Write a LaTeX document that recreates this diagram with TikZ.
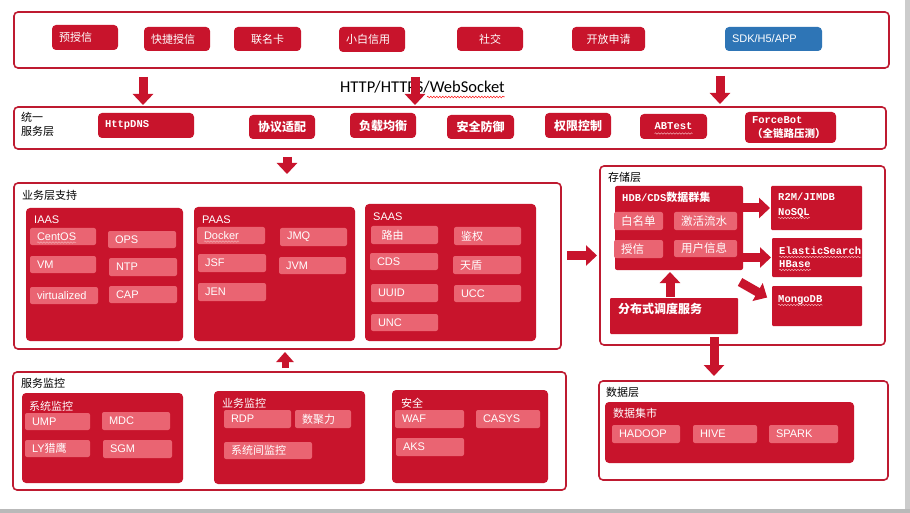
\documentclass[tikz,border=0pt]{standalone}
\usepackage{fontspec}
\setmainfont{Liberation Sans}
\newfontfamily\cjk{Noto Sans CJK SC}
\newfontfamily\monob{Liberation Mono}
\newfontfamily\cali{Carlito}
\usetikzlibrary{arrows.meta,calc,decorations.pathmorphing}
\definecolor{dred}{HTML}{C8142C}
\definecolor{bred}{HTML}{BE1A30}
\definecolor{pinkr}{HTML}{EA6472}
\definecolor{blueb}{HTML}{2E75B6}
\newcommand\mb{\fontsize{10.5}{12}\selectfont\monob\bfseries}
\newcommand\bx[7][]{\pgfmathsetmacro\bw{#5-#3}\pgfmathsetmacro\bh{#6-#4}%
  \node[inner sep=0pt, outer sep=0pt, minimum width=\bw pt, minimum height=\bh pt, #1] (#2) at ({(#3+#5)/2},{(#4+#6)/2}) {#7};}
\newcommand\lx[7][]{\pgfmathsetmacro\bw{#5-#3}\pgfmathsetmacro\bh{#6-#4}\pgfmathsetmacro\tw{#5-#3-14}%
  \node[inner xsep=7pt, inner ysep=0pt, outer sep=0pt, minimum width=\bw pt, minimum height=\bh pt, text width=\tw pt, align=left, #1] (#2) at ({(#3+#5)/2},{(#4+#6)/2}) {#7};}
\tikzset{
  outer/.style={draw=bred, line width=1.6pt, rounded corners=4pt, fill=white},
  btn/.style={fill=dred, rounded corners=4pt, text=white, font=\fontsize{11}{13}\selectfont},
  sbtn/.style={fill=dred, rounded corners=4pt, text=white, font=\fontsize{12}{14}\selectfont\bfseries},
  panel/.style={fill=dred, rounded corners=4pt},
  item/.style={fill=pinkr, rounded corners=2pt, text=white, font=\fontsize{11}{13}\selectfont},
  sitem/.style={item, font=\fontsize{11.5}{13}\selectfont},
  lbl/.style={anchor=base west, inner sep=0pt, font=\fontsize{11}{13}\selectfont},
  wlbl/.style={lbl, text=white},
  wm/.style={anchor=base west, inner sep=0pt, text=white, font=\mb},
  squig/.style={draw=pinkr!55!white, line width=0.5pt, decorate, decoration={snake, amplitude=0.7pt, segment length=3pt}},
  barrow/.style={draw=dred, line width=9pt, -{Triangle[width=20pt,length=11pt]}},
  barrows/.style={draw=dred, line width=7pt, -{Triangle[width=17pt,length=10pt]}},
}
\begin{document}
\begin{tikzpicture}[x=1pt,y=-1pt]
\useasboundingbox (0,0) rectangle (910,513);
\fill[white] (0,0) rectangle (910,513);
\fill[gray!40] (905,0) rectangle (910,513);
\fill[gray!55] (0,509) rectangle (910,513);

% ---- top channel box
\bx[outer]{top}{14}{12}{889}{68}{}
\lx[btn]{b1}{52}{25}{118}{50}{\cjk 预授信}
\lx[btn]{b2}{144}{27}{210}{51}{\cjk 快捷授信}
\bx[btn]{b3}{234}{27}{301}{51}{\cjk 联名卡}
\lx[btn]{b4}{339}{27}{405}{52}{\cjk 小白信用}
\bx[btn]{b5}{457}{27}{523}{51}{\cjk 社交}
\bx[btn]{b6}{572}{27}{645}{51}{\cjk 开放申请}
\lx[btn,fill=blueb]{b7}{725}{27}{822}{51}{SDK/H5/APP}

\node[anchor=base west, inner sep=0pt, font=\fontsize{16.5}{18}\selectfont\cali] (http) at (340,93) {HTTP/HTTPS/WebSocket};
\draw[red, line width=0.5pt, decorate, decoration={snake, amplitude=0.8pt, segment length=3pt}] ($(http.base east)+(-78,4)$) -- ($(http.base east)+(0,4)$);

% ---- unified service layer
\bx[outer]{svc}{14}{107}{886}{149}{}
\node[anchor=north west, inner sep=0pt, align=left, font=\fontsize{11}{14}\selectfont\cjk] (svclbl) at (21,112) {统一\\服务层};
\lx[sbtn]{s1}{98}{113}{194}{138}{\mb HttpDNS}
\bx[sbtn]{s2}{249}{115}{315}{139}{\cjk 协议适配}
\bx[sbtn]{s3}{350}{113}{416}{138}{\cjk 负载均衡}
\bx[sbtn]{s4}{447}{115}{514}{139}{\cjk 安全防御}
\bx[sbtn]{s5}{545}{113}{611}{138}{\cjk 权限控制}
\bx[sbtn]{s6}{640}{114}{707}{139}{\mb ABTest}
\lx[sbtn]{s7}{745}{112}{836}{143}{\mb ForceBot\\{\fontsize{10.5}{12}\selectfont\cjk （全链路压测）}}
\draw[squig] ($(s6.center)+(-19,7)$) -- ($(s6.center)+(19,7)$);

% ---- business support
\bx[outer]{biz}{14}{183}{561}{349}{}
\node[lbl] (bizlbl) at (22,200) {\cjk 业务层支持};
\bx[panel]{iaas}{26}{208}{183}{341}{}
\node[wlbl] (iaaslbl) at (34,224) {IAAS};
\lx[item]{i1}{30}{228}{96}{245}{CentOS}
\lx[item]{i2}{108}{231}{176}{248}{OPS}
\lx[item]{i3}{30}{256}{96}{273}{VM}
\lx[item]{i4}{109}{258}{177}{276}{NTP}
\lx[item]{i5}{30}{287}{98}{304}{virtualized}
\lx[item]{i6}{109}{286}{177}{303}{CAP}
\draw[squig] ($(i1.west)+(7,6)$) -- ($(i1.west)+(46,6)$);
\bx[panel]{paas}{194}{207}{355}{341}{}
\node[wlbl] (paaslbl) at (202,223) {PAAS};
\lx[item]{p1}{197}{227}{265}{244}{Docker}
\lx[item]{p2}{280}{228}{347}{246}{JMQ}
\lx[item]{p3}{198}{254}{266}{272}{JSF}
\lx[item]{p4}{279}{257}{346}{274}{JVM}
\lx[item]{p5}{198}{283}{266}{301}{JEN}
\draw[squig] ($(p1.west)+(7,6)$) -- ($(p1.west)+(42,6)$);
\bx[panel]{saas}{365}{204}{536}{341}{}
\node[wlbl] (saaslbl) at (373,221) {SAAS};
\lx[item]{a1}{371}{226}{438}{244}{\cjk ~路由}
\lx[item]{a2}{454}{227}{521}{245}{\cjk 鉴权}
\lx[item]{a3}{370}{253}{438}{270}{CDS}
\lx[item]{a4}{453}{256}{521}{274}{\cjk 天盾}
\lx[item]{a5}{371}{284}{438}{302}{UUID}
\lx[item]{a6}{454}{285}{521}{302}{UCC}
\lx[item]{a7}{371}{314}{438}{331}{UNC}

% ---- storage layer
\bx[outer]{store}{600}{166}{885}{345}{}
\node[lbl] (storelbl) at (608,182) {\cjk 存储层};
\bx[panel,rounded corners=2pt]{hdb}{615}{186}{743}{270}{}
\node[wlbl] (hdblbl) at (622,202) {{\mb HDB/CDS}{\fontsize{11}{13}\selectfont\cjk\bfseries 数据群集}};
\lx[sitem]{h1}{614}{212}{663}{230}{\cjk 白名单}
\lx[sitem]{h2}{674}{212}{737}{230}{\cjk 激活流水}
\lx[sitem]{h3}{614}{240}{663}{258}{\cjk 授信}
\lx[sitem]{h4}{674}{240}{737}{257}{\cjk 用户信息}
\bx[panel,rounded corners=1pt]{sched}{610}{298}{738}{334}{}
\node[wlbl, font=\fontsize{12}{14}\selectfont\cjk\bfseries] (schedlbl) at (618,313) {分布式调度服务};
\bx[panel,rounded corners=1pt]{r2m}{771}{186}{862}{230}{}
\node[wm] (r2mt1) at (778,201) {R2M/JIMDB};
\node[wm] (r2mt2) at (778,215) {NoSQL};
\bx[panel,rounded corners=1pt]{es}{772}{238}{862}{277}{}
\node[wm] (est1) at (779,254) {ElasticSearch};
\node[wm] (est2) at (779,267) {HBase};
\bx[panel,rounded corners=1pt]{mongo}{772}{286}{862}{326}{}
\node[wm] (mongot) at (778,302) {MongoDB};
\draw[squig] ($(r2mt2.base west)+(0,3)$) -- ($(r2mt2.base east)+(0,3)$);
\draw[squig] ($(est1.base west)+(0,3)$) -- ($(est1.base east)+(0,3)$);
\draw[squig] ($(est2.base west)+(0,3)$) -- ($(est2.base east)+(0,3)$);
\draw[squig] ($(mongot.base west)+(0,3)$) -- ($(mongot.base east)+(0,3)$);

% ---- data layer
\bx[outer]{data}{599}{381}{888}{480}{}
\node[lbl] (datalbl) at (606,396) {\cjk 数据层};
\bx[panel]{mart}{605}{402}{854}{463}{}
\node[wlbl] (martlbl) at (613,417) {\cjk 数据集市};
\lx[item]{d1}{612}{425}{680}{443}{HADOOP}
\lx[item]{d2}{693}{425}{757}{443}{HIVE}
\lx[item]{d3}{769}{425}{838}{443}{SPARK}

% ---- service monitoring
\bx[outer]{mon}{13}{372}{566}{490}{}
\node[lbl] (monlbl) at (21,387) {\cjk 服务监控};
\bx[panel]{sysm}{22}{393}{183}{483}{}
\node[wlbl] (sysmlbl) at (29,410) {\cjk 系统监控};
\lx[item]{m1}{25}{413}{90}{430}{UMP}
\lx[item]{m2}{102}{412}{170}{430}{MDC}
\lx[item]{m3}{25}{440}{90}{457}{LY{\cjk 猎鹰}}
\lx[item]{m4}{103}{440}{172}{458}{SGM}
\bx[panel]{bizm}{214}{391}{365}{484}{}
\node[wlbl] (bizmlbl) at (222,407) {\cjk 业务监控};
\lx[item]{n1}{224}{410}{291}{428}{RDP}
\lx[item]{n2}{295}{410}{351}{428}{\cjk 数聚力}
\lx[item]{n3}{224}{442}{312}{459}{\cjk 系统间监控}
\bx[panel]{sec}{392}{390}{548}{483}{}
\node[wlbl] (seclbl) at (401,407) {\cjk 安全};
\lx[item]{c1}{395}{410}{464}{428}{WAF}
\lx[item]{c2}{476}{410}{540}{428}{CASYS}
\lx[item]{c3}{396}{438}{464}{456}{AKS}

% ---- arrows
\coordinate (ax1) at (143,0);
\coordinate (ax2) at (415,0);
\coordinate (ax3) at (720,0);
\coordinate (ax4) at (287,0);
\coordinate (ax5) at (285,0);
\coordinate (ax6) at (670,0);
\coordinate (ax7) at (714,0);
\draw[barrow, shorten <=9pt, shorten >=2pt] (top.south -| ax1) -- (svc.north -| ax1);
\draw[barrow, shorten <=9pt, shorten >=2pt] (top.south -| ax2) -- (svc.north -| ax2);
\draw[barrow, shorten <=8pt, shorten >=3pt] (top.south -| ax3) -- (svc.north -| ax3);
\draw[barrow, shorten <=8pt, shorten >=9pt] (svc.south -| ax4) -- (biz.north -| ax4);
\draw[barrows, shorten <=4pt, shorten >=3pt] (mon.north -| ax5) -- (biz.south -| ax5);
\draw[barrow, shorten <=6pt, shorten >=3pt] (biz.east |- store.west) -- (store.west);
\draw[barrow, shorten <=-3pt, shorten >=1pt] (hdb.east |- r2m.west) -- (r2m.west);
\draw[barrow, shorten <=-3pt, shorten >=1pt] (hdb.east |- es.west) -- (es.west);
\draw[barrow, shorten >=1pt] ($(hdb.south east)+(-3,12)$) -- ($(mongo.west)+(-4,-8)$);
\draw[barrow, shorten <=1pt, shorten >=2pt] (sched.north -| ax6) -- (hdb.south -| ax6);
\draw[barrow, shorten <=-8pt, shorten >=5pt] (store.south -| ax7) -- (data.north -| ax7);
\end{tikzpicture}
\end{document}
